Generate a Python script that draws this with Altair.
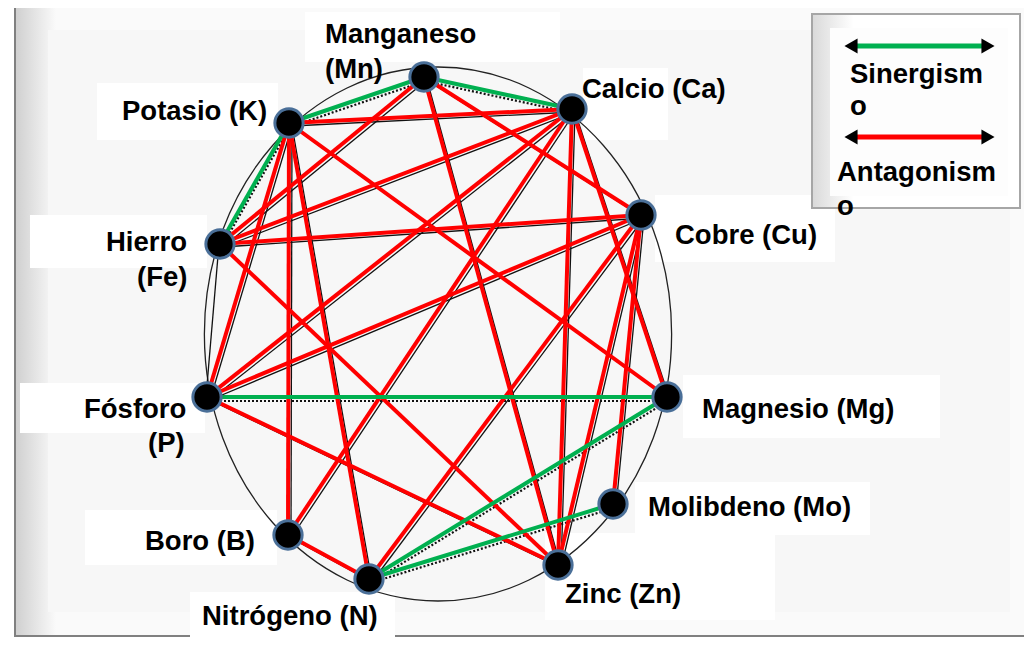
import altair as alt
import pandas as pd

# ---------------- data ----------------
node_names = ["Mn", "Ca", "K", "Cu", "Fe", "P", "Mg", "Mo", "B", "N", "Zn"]
node_x = [424, 572, 289, 641, 220, 207, 667, 613, 288, 369, 558]
node_y = [77, 109, 123, 215, 244, 397, 397, 504, 535, 579, 565]

syn_from = ["K", "Mn", "K", "P", "N", "N"]
syn_to = ["Mn", "Ca", "Fe", "Mg", "Mg", "Mo"]

ant_from = ["K", "K", "K", "K", "K", "Mn", "Mn", "Mn", "Fe", "Fe", "Fe",
            "Ca", "Ca", "Ca", "Ca", "Cu", "Cu", "Cu", "Cu", "P", "B"]
ant_to = ["Ca", "Mg", "P", "B", "N", "Fe", "Cu", "Zn", "Ca", "Cu", "Zn",
          "P", "B", "Zn", "Mg", "P", "N", "Zn", "Mo", "Zn", "N"]

# thin black line of the underlying original chart (without colour overlay)
plain_from = ["Fe"]
plain_to = ["P"]

label_text = ["Manganeso", "(Mn)", "Potasio (K)", "Calcio (Ca)", "Cobre (Cu)",
              "Hierro", "(Fe)", "Fósforo", "(P)", "Magnesio (Mg)",
              "Molibdeno (Mo)", "Boro (B)", "Nitrógeno (N)", "Zinc (Zn)"]
label_x = [325, 325, 122, 582, 675, 106, 137, 84, 148, 702, 648, 145, 202, 565]
label_y = [35, 70, 112, 90, 236, 243, 278, 410, 444, 410, 508, 542, 617, 595]

legend_text = ["Sinergism", "o", "Antagonism", "o"]
legend_tx = [850, 850, 837, 837]
legend_ty = [75, 107, 173, 207]
legend_line_y = [46, 137]
legend_line_color = ["#00b050", "#ff0000"]

# label background boxes (x1, y1, x2, y2)
box_x1 = [305, 97, 583, 655, 30, 20, 683, 635, 85, 190, 545]
box_y1 = [12, 83, 68, 195, 215, 383, 375, 482, 510, 592, 533]
box_x2 = [560, 278, 668, 835, 207, 205, 940, 870, 277, 395, 775]
box_y2 = [62, 140, 140, 262, 268, 433, 438, 535, 565, 640, 620]

# ---------------- scales ----------------
xs = alt.Scale(domain=[8, 1024], range=[0, 1016], zero=False, nice=False)
ys = alt.Scale(domain=[8, 637], range=[0, 629], zero=False, nice=False)

pos = dict(zip(node_names, zip(node_x, node_y)))


def edges(frm, to):
    return pd.DataFrame({
        "x": [pos[a][0] for a in frm], "y": [pos[a][1] for a in frm],
        "x2": [pos[b][0] for b in to], "y2": [pos[b][1] for b in to],
    })


def X(f="x"):
    return alt.X(f + ":Q", scale=xs, axis=None)


def Y(f="y"):
    return alt.Y(f + ":Q", scale=ys, axis=None)


syn_df = edges(syn_from, syn_to)
ant_df = edges(ant_from, ant_to)
plain_df = edges(plain_from, plain_to)
nodes_df = pd.DataFrame({"name": node_names, "x": node_x, "y": node_y})
labels_df = pd.DataFrame({"t": label_text, "x": label_x, "y": label_y})
boxes_df = pd.DataFrame({"x": box_x1, "y": box_y1, "x2": box_x2, "y2": box_y2})
leg_text_df = pd.DataFrame({"t": legend_text, "x": legend_tx, "y": legend_ty})
leg_line_df = pd.DataFrame({"y": legend_line_y, "c": legend_line_color,
                            "x": [857] * 2, "x2": [982] * 2})
leg_arrow_df = pd.DataFrame({"y": legend_line_y * 2,
                             "x": [851, 851, 988, 988],
                             "s": ["triangle-left", "triangle-left",
                                   "triangle-right", "triangle-right"]})

frame_df = pd.DataFrame({"x": [15], "y": [-2], "x2": [1040], "y2": [636]})
inner_df = pd.DataFrame({"x": [48], "y": [30], "x2": [1010], "y2": [612]})
legbox_df = pd.DataFrame({"x": [812], "y": [14], "x2": [1020], "y2": [208]})
legin_df = pd.DataFrame({"x": [830], "y": [28], "x2": [1008], "y2": [196]})
circ_df = pd.DataFrame({"x": [438], "y": [334]})

# ---------------- layers ----------------
frame = alt.Chart(frame_df).mark_rect(
    fill=alt.LinearGradient(gradient="linear", x1=0, x2=0.04, y1=0, y2=0,
                            stops=[alt.GradientStop(color="#cfcfcf", offset=0),
                                   alt.GradientStop(color="#fafafa", offset=1)]),
    stroke="#808080", strokeWidth=2
).encode(x=X(), y=Y(), x2="x2", y2="y2")

inner = alt.Chart(inner_df).mark_rect(fill="#f7f7f7").encode(
    x=X(), y=Y(), x2="x2", y2="y2")

boxes = alt.Chart(boxes_df).mark_rect(fill="white").encode(
    x=X(), y=Y(), x2="x2", y2="y2")

ellipse_path = "M -0.875 0 A 0.875 1 0 1 1 0.875 0 A 0.875 1 0 1 1 -0.875 0 Z"
circle = alt.Chart(circ_df).mark_point(
    shape=ellipse_path, filled=False, stroke="#222222", strokeWidth=1.3,
    size=534 * 534, opacity=1
).encode(x=X(), y=Y())

black_ant = alt.Chart(ant_df).mark_rule(
    color="#111111", strokeWidth=1.3,
    xOffset=3, yOffset=3, x2Offset=3, y2Offset=3
).encode(x=X(), y=Y(), x2="x2", y2="y2")

black_plain = alt.Chart(plain_df).mark_rule(
    color="#111111", strokeWidth=1.3, xOffset=-1, x2Offset=-1
).encode(x=X(), y=Y(), x2="x2", y2="y2")

black_syn = alt.Chart(syn_df).mark_rule(
    color="#111111", strokeWidth=2.2, strokeDash=[2, 2],
    xOffset=1, yOffset=4, x2Offset=1, y2Offset=4
).encode(x=X(), y=Y(), x2="x2", y2="y2")

red = alt.Chart(ant_df).mark_rule(color="#ff0000", strokeWidth=4).encode(
    x=X(), y=Y(), x2="x2", y2="y2")

green = alt.Chart(syn_df).mark_rule(color="#00b050", strokeWidth=4).encode(
    x=X(), y=Y(), x2="x2", y2="y2")

nodes = alt.Chart(nodes_df).mark_point(
    shape="circle", filled=True, fill="black", stroke="#4a6f98",
    strokeWidth=3, size=800, opacity=1
).encode(x=X(), y=Y())

labels = alt.Chart(labels_df).mark_text(
    align="left", baseline="middle", font="Liberation Sans",
    fontWeight="bold", fontSize=27.5, color="black"
).encode(x=X(), y=Y(), text="t:N")

legbox = alt.Chart(legbox_df).mark_rect(
    fill=alt.LinearGradient(gradient="linear", x1=0, x2=0.2, y1=0, y2=0,
                            stops=[alt.GradientStop(color="#d9d9d9", offset=0),
                                   alt.GradientStop(color="#ffffff", offset=1)]),
    stroke="#a6a6a6", strokeWidth=2
).encode(x=X(), y=Y(), x2="x2", y2="y2")

legin = alt.Chart(legin_df).mark_rect(fill="#fdfdfd").encode(
    x=X(), y=Y(), x2="x2", y2="y2")

leg_lines = alt.Chart(leg_line_df).mark_rule(strokeWidth=5).encode(
    x=X(), y=Y(), x2="x2", color=alt.Color("c:N", scale=None))

leg_arrows = alt.Chart(leg_arrow_df).mark_point(
    filled=True, color="black", size=230, opacity=1
).encode(x=X(), y=Y(), shape=alt.Shape("s:N", scale=None))

leg_text = alt.Chart(leg_text_df).mark_text(
    align="left", baseline="middle", font="Liberation Sans",
    fontWeight="bold", fontSize=27.5, color="black"
).encode(x=X(), y=Y(), text="t:N")

chart = alt.layer(
    frame, inner, boxes, circle, black_plain, black_ant, black_syn, red,
    green, nodes, labels, legbox, legin, leg_lines, leg_arrows, leg_text
).properties(
    width=1016, height=629, padding=0, autosize="none", background="white"
).configure_view(stroke=None)

chart.save("out.html", embed_options={"renderer": "svg", "actions": False})
